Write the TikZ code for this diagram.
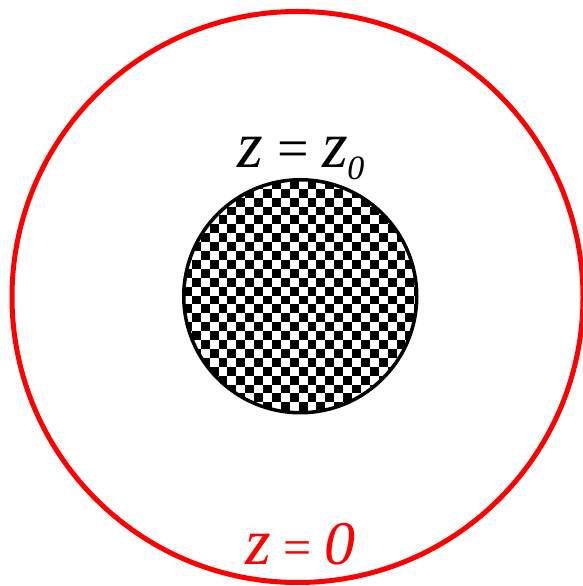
\documentclass[tikz,border=0pt]{standalone}
\usepackage{fontspec}
\setmainfont{Liberation Serif}
\tikzset{
  outerring/.style={draw=red, line width=5pt},
  innerdisk/.style={draw=black, line width=3.5pt},
  lbl/.style={anchor=base, inner sep=0pt}
}
\begin{document}
\begin{tikzpicture}[x=1pt,y=1pt]
\useasboundingbox (0,0) rectangle (583,586);
\coordinate (oc) at (297.5,289);
\coordinate (ic) at (300.25,289.75);
% checkerboard disk
\begin{scope}
  \clip (ic) circle (117);
  \fill[white] (ic) circle (117);
  \foreach \i in {-15,...,18}{
    \foreach \j in {-15,...,18}{
      \ifodd\numexpr\i+\j+100\relax\else
        \fill[black] (263+\i*8.9, 326-\j*8.9) rectangle ++(8.9,-8.9);
      \fi
    }
  }
\end{scope}
\draw[innerdisk] (ic) circle (116.5);
\draw[outerring] (oc) circle (285.5);
\node[lbl] (top) at (301,418) {\fontsize{66}{70}\selectfont\textit{z}\fontsize{56}{60}\selectfont{} = \fontsize{66}{70}\selectfont\textit{z}\kern-1pt\raisebox{-12pt}{\fontsize{34}{36}\selectfont\textit{0}}};
\node[lbl, text=red] (bot) at (300.5,21) {\fontsize{66}{70}\selectfont\textit{z}\fontsize{50}{60}\selectfont{} = \fontsize{62}{66}\selectfont\textit{0}};
\end{tikzpicture}
\end{document}
